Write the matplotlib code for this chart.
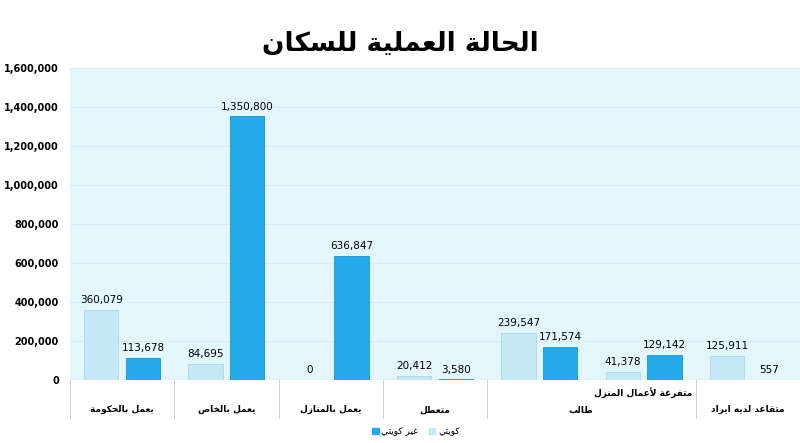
import matplotlib
matplotlib.use('Agg')
import matplotlib.pyplot as plt
import matplotlib.transforms as mtransforms
from matplotlib.patches import Patch
from matplotlib.lines import Line2D
import numpy as np

categories = ['يعمل بالحكومة', 'يعمل بالخاص', 'يعمل بالمنازل', 'متعطل',
              'طالب', 'متفرغة لأعمال المنزل', 'متقاعد لديه ايراد']
kuwaiti = [360079, 84695, 0, 20412, 239547, 41378, 125911]
non_kuwaiti = [113678, 1350800, 636847, 3580, 171574, 129142, 557]
title = 'الحالة العملية للسكان'
legend_labels = ['كويتي', 'غير كويتي']

# minimal Arabic shaping: (isolated, final, initial, medial)
FORMS = {
    'ا': (0xFE8D, 0xFE8E, None, None), 'أ': (0xFE83, 0xFE84, None, None),
    'إ': (0xFE87, 0xFE88, None, None), 'آ': (0xFE81, 0xFE82, None, None),
    'ب': (0xFE8F, 0xFE90, 0xFE91, 0xFE92), 'ة': (0xFE93, 0xFE94, None, None),
    'ت': (0xFE95, 0xFE96, 0xFE97, 0xFE98), 'ث': (0xFE99, 0xFE9A, 0xFE9B, 0xFE9C),
    'ج': (0xFE9D, 0xFE9E, 0xFE9F, 0xFEA0), 'ح': (0xFEA1, 0xFEA2, 0xFEA3, 0xFEA4),
    'خ': (0xFEA5, 0xFEA6, 0xFEA7, 0xFEA8), 'د': (0xFEA9, 0xFEAA, None, None),
    'ذ': (0xFEAB, 0xFEAC, None, None), 'ر': (0xFEAD, 0xFEAE, None, None),
    'ز': (0xFEAF, 0xFEB0, None, None), 'س': (0xFEB1, 0xFEB2, 0xFEB3, 0xFEB4),
    'ش': (0xFEB5, 0xFEB6, 0xFEB7, 0xFEB8), 'ص': (0xFEB9, 0xFEBA, 0xFEBB, 0xFEBC),
    'ض': (0xFEBD, 0xFEBE, 0xFEBF, 0xFEC0), 'ط': (0xFEC1, 0xFEC2, 0xFEC3, 0xFEC4),
    'ظ': (0xFEC5, 0xFEC6, 0xFEC7, 0xFEC8), 'ع': (0xFEC9, 0xFECA, 0xFECB, 0xFECC),
    'غ': (0xFECD, 0xFECE, 0xFECF, 0xFED0), 'ف': (0xFED1, 0xFED2, 0xFED3, 0xFED4),
    'ق': (0xFED5, 0xFED6, 0xFED7, 0xFED8), 'ك': (0xFED9, 0xFEDA, 0xFEDB, 0xFEDC),
    'ل': (0xFEDD, 0xFEDE, 0xFEDF, 0xFEE0), 'م': (0xFEE1, 0xFEE2, 0xFEE3, 0xFEE4),
    'ن': (0xFEE5, 0xFEE6, 0xFEE7, 0xFEE8), 'ه': (0xFEE9, 0xFEEA, 0xFEEB, 0xFEEC),
    'و': (0xFEED, 0xFEEE, None, None), 'ى': (0xFEEF, 0xFEF0, None, None),
    'ي': (0xFEF1, 0xFEF2, 0xFEF3, 0xFEF4),
}
LAM_ALEF = {'ا': (0xFEFB, 0xFEFC), 'أ': (0xFEF7, 0xFEF8),
            'إ': (0xFEF9, 0xFEFA), 'آ': (0xFEF5, 0xFEF6)}


def dual(c):
    return c in FORMS and FORMS[c][2] is not None


def shape(text):
    # merge lam-alef
    chars = []
    i = 0
    while i < len(text):
        if text[i] == 'ل' and i + 1 < len(text) and text[i + 1] in LAM_ALEF:
            chars.append(('LA', text[i + 1]))
            i += 2
        else:
            chars.append(('C', text[i]))
            i += 1
    out = []
    for j, (kind, c) in enumerate(chars):
        prev = chars[j - 1] if j > 0 else None
        nxt = chars[j + 1] if j + 1 < len(chars) else None
        pj = prev is not None and prev[0] == 'C' and dual(prev[1])
        if kind == 'LA':
            out.append(chr(LAM_ALEF[c][1 if pj else 0]))
            continue
        if c not in FORMS:
            out.append(c)
            continue
        f = FORMS[c]
        nj = dual(c) and nxt is not None and (nxt[0] == 'LA' or nxt[1] in FORMS)
        if pj and nj:
            out.append(chr(f[3]))
        elif pj:
            out.append(chr(f[1]))
        elif nj:
            out.append(chr(f[2]))
        else:
            out.append(chr(f[0]))
    return ''.join(out)[::-1]


plt.rcParams['font.family'] = ['DejaVu Sans', 'Noto Sans']

light = '#c4e8f6'
blue = '#24a9ea'

fig = plt.figure(figsize=(8, 4.43), dpi=100)
ax = fig.add_axes([0.0875, 0.142, 0.9125, 0.705])
ax.set_facecolor('#e2f6fb')

x = np.arange(len(categories))
w = 0.33
b1 = ax.bar(x - 0.2, kuwaiti, w, color=light, edgecolor='#a9d9ec', linewidth=0.6)
b2 = ax.bar(x + 0.2, non_kuwaiti, w, color=blue, edgecolor='#1b93d0', linewidth=0.6)
for bars, vals in ((b1, kuwaiti), (b2, non_kuwaiti)):
    for r, v in zip(bars, vals):
        ax.text(r.get_x() + r.get_width() / 2, v + 25000, f'{v:,}',
                ha='center', va='bottom', fontsize=7.5)

ax.set_xlim(-0.5, len(categories) - 0.5)
ax.set_ylim(0, 1600000)
ax.set_yticks(np.arange(0, 1600001, 200000))
ax.set_yticklabels([f'{int(t):,}' for t in ax.get_yticks()], fontsize=7, fontweight='bold')
ax.yaxis.grid(True, color='#d0ecf4', linewidth=0.6)
ax.set_axisbelow(True)
ax.set_xticks([])
ax.tick_params(axis='y', length=0, pad=8)
for s in ax.spines.values():
    s.set_visible(False)
ax.axhline(0, color='#bcbcbc', linewidth=0.8)

# category label cells under the axis
trans = mtransforms.blended_transform_factory(ax.transData, ax.transAxes)
for sep in [-0.5, 0.5, 1.5, 2.5, 3.5, 5.5, 6.5]:
    ax.add_line(Line2D([sep, sep], [0, -0.12], transform=trans, color='#cfcfcf',
                       linewidth=0.7, clip_on=False))
label_pos = [(0, -0.095), (1, -0.095), (2, -0.095), (3, -0.095),
             (4.4, -0.095), (5, -0.04), (6, -0.095)]
for (px, py), c in zip(label_pos, categories):
    ax.text(px, py, shape(c), transform=trans, ha='center', va='center',
            fontsize=6.5, fontweight='bold')

fig.text(0.5, 0.9, shape(title), ha='center', va='center', fontsize=19,
         fontweight='bold')

handles = [Patch(color=blue), Patch(color=light)]
fig.legend(handles, [shape(legend_labels[1]), shape(legend_labels[0])],
           loc='center', bbox_to_anchor=(0.52, 0.025), ncol=2, frameon=False,
           fontsize=6.5, handlelength=0.7, handleheight=0.7, columnspacing=1.2,
           handletextpad=0.3)

fig.savefig('out.png', dpi=100)
